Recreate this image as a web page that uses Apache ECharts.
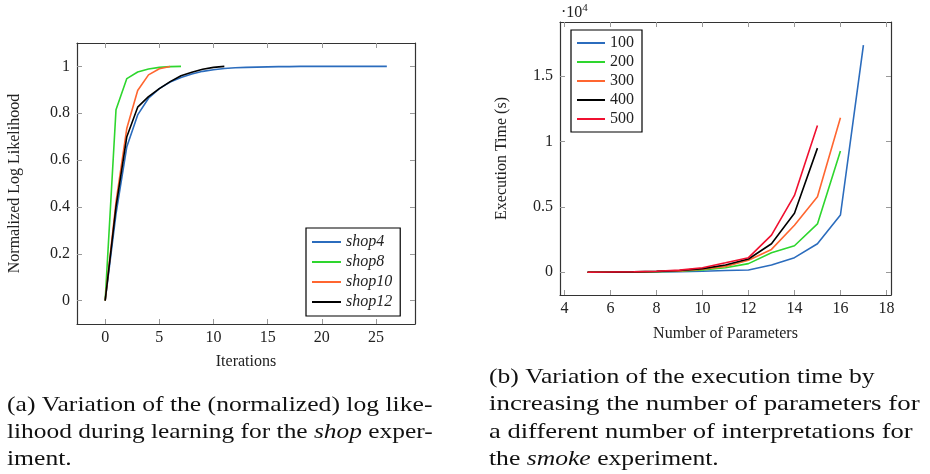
<!DOCTYPE html>
<html>
<head>
<meta charset="utf-8">
<script src="https://cdn.jsdelivr.net/npm/echarts@6/dist/echarts.min.js"></script>
<style>
html, body { margin: 0; padding: 0; background: #fff; }
#main { width: 930px; height: 474px; }
</style>
</head>
<body>
<div id="main"></div>
<script>
// (a) normalized log likelihood per iteration
var SHOP_NAMES = ['shop4', 'shop8', 'shop10', 'shop12'];
var shop4 = [0, 0.37, 0.657, 0.793, 0.864, 0.905, 0.933, 0.953, 0.968, 0.979, 0.986, 0.991, 0.994, 0.996, 0.997, 0.998, 0.999, 0.999, 1, 1, 1, 1, 1, 1, 1, 1, 1];
var shop8 = [0, 0.815, 0.948, 0.976, 0.989, 0.996, 0.999, 1];
var shop10 = [0, 0.42, 0.736, 0.897, 0.964, 0.99, 1];
var shop12 = [0, 0.40, 0.70, 0.826, 0.871, 0.905, 0.935, 0.96, 0.975, 0.988, 0.996, 1];
var ITER_TICKS = [0, 5, 10, 15, 20, 25];
var LL_TICKS = [0, 0.2, 0.4, 0.6, 0.8, 1];

// (b) execution time (s) per number of parameters
var PARAMS = [5, 6, 7, 8, 9, 10, 11, 12, 13, 14, 15, 16, 17];
var INTERP_NAMES = ['100', '200', '300', '400', '500'];
var t100 = [0, 5, 15, 30, 50, 80, 130, 177, 557, 1114, 2177, 4380, 17367];
var t200 = [0, 8, 20, 40, 80, 180, 350, 658, 1494, 2025, 3696, 9266];
var t300 = [0, 10, 25, 55, 100, 230, 450, 911, 1747, 3595, 5772, 11823];
var t400 = [0, 12, 30, 65, 130, 280, 550, 1013, 2177, 4506, 9494];
var t500 = [0, 15, 35, 75, 160, 340, 720, 1114, 2835, 5873, 11215];
var PARAM_TICKS = [4, 6, 8, 10, 12, 14, 16, 18];
var TIME_TICKS = [0, 5000, 10000, 15000];

var COLORS = ['#2b6cbd', '#2ed62e', '#ff6630', '#000000', '#f01030'];
var SERIF = 'Liberation Serif';

function pairs(xs, ys) {
	var out = [];
	for (var i = 0; i < ys.length; i++) out.push([xs[i], ys[i]]);
	return out;
}
function range(n) {
	var out = [];
	for (var i = 0; i < n; i++) out.push(i);
	return out;
}

function xAx(grid, min, max, ticks, pos, name, gap) {
	var main = pos == 'bottom';
	return {
		type: 'value', gridIndex: grid, position: pos, min: min, max: max,
		name: main ? name : '', nameLocation: 'middle', nameGap: gap,
		nameTextStyle: { fontFamily: SERIF, fontSize: 16, color: '#222' },
		splitLine: { show: false },
		axisLine: { show: true, onZero: false, lineStyle: { color: '#333', width: 1.2 } },
		axisTick: { show: true, inside: true, length: 5, customValues: ticks, lineStyle: { color: '#999' } },
		axisLabel: { show: main, customValues: ticks, margin: 6, fontFamily: SERIF, fontSize: 16, color: '#222' }
	};
}
function yAx(grid, min, max, ticks, pos, name, gap, fmt) {
	var main = pos == 'left';
	return {
		type: 'value', gridIndex: grid, position: pos, min: min, max: max,
		name: main ? name : '', nameLocation: 'middle', nameGap: gap,
		nameTextStyle: { fontFamily: SERIF, fontSize: 16, color: '#222' },
		splitLine: { show: false },
		axisLine: { show: true, onZero: false, lineStyle: { color: '#333', width: 1.2 } },
		axisTick: { show: true, inside: true, length: 5, customValues: ticks, lineStyle: { color: '#999' } },
		axisLabel: { show: main, customValues: ticks, margin: 7, fontFamily: SERIF, fontSize: 16, color: '#222', formatter: fmt }
	};
}

var shopData = [shop4, shop8, shop10, shop12];
var timeData = [t100, t200, t300, t400, t500];
var series = [];
shopData.forEach(function(d, i) {
	series.push({
		name: SHOP_NAMES[i], type: 'line', xAxisIndex: 0, yAxisIndex: 0,
		data: pairs(range(d.length), d), showSymbol: false,
		lineStyle: { width: 1.6, color: COLORS[i] }, itemStyle: { color: COLORS[i] }
	});
});
timeData.forEach(function(d, i) {
	series.push({
		name: INTERP_NAMES[i], type: 'line', xAxisIndex: 1, yAxisIndex: 1,
		data: pairs(PARAMS, d), showSymbol: false,
		lineStyle: { width: 1.6, color: COLORS[i] }, itemStyle: { color: COLORS[i] }
	});
});

// captions: CM is wider than Times, so stretch a bit
function caption(x, y, txt, sx) {
	return { type: 'text', x: x, y: y, scaleX: sx, style: {
		text: txt, font: '21px ' + SERIF, fill: '#111',
		rich: { i: { fontFamily: SERIF, fontSize: 21, fontStyle: 'italic' } }
	} };
}

var legendCommon = {
	orient: 'vertical', borderColor: '#000', borderWidth: 1.2, backgroundColor: '#fff',
	borderRadius: 0, icon: 'rect', itemWidth: 29, itemHeight: 2,
	textStyle: { fontFamily: SERIF, fontSize: 16, color: '#222' }
};

var option = {
	animation: false,
	grid: [
		{ left: 77, top: 43, width: 338, height: 281, show: false },
		{ left: 560, top: 22, width: 331, height: 273, show: false }
	],
	xAxis: [
		xAx(0, -2.6, 28.6, ITER_TICKS, 'bottom', 'Iterations', 30),
		xAx(1, 3.8, 18.2, PARAM_TICKS, 'bottom', 'Number of Parameters', 31),
		xAx(0, -2.6, 28.6, ITER_TICKS, 'top'),
		xAx(1, 3.8, 18.2, PARAM_TICKS, 'top')
	],
	yAxis: [
		yAx(0, -0.1, 1.1, LL_TICKS, 'left', 'Normalized Log Likelihood', 54),
		yAx(1, -1740, 19140, TIME_TICKS, 'left', 'Execution Time (s)', 50, function(v) { return String(v / 10000); }),
		yAx(0, -0.1, 1.1, LL_TICKS, 'right'),
		yAx(1, -1740, 19140, TIME_TICKS, 'right')
	],
	legend: [
		Object.assign({}, legendCommon, {
			data: SHOP_NAMES, left: 306, top: 228, padding: [6, 8, 6, 6], itemGap: 4,
			textStyle: { fontFamily: SERIF, fontSize: 16, fontStyle: 'italic', color: '#222' }
		}),
		Object.assign({}, legendCommon, {
			data: INTERP_NAMES, left: 571, top: 30, padding: [5, 8, 5, 6], itemGap: 3, itemWidth: 28
		})
	],
	series: series,
	graphic: [
		{ type: 'text', x: 561, y: 3, style: {
			text: '·10{s|4}', font: '16px ' + SERIF, fill: '#222',
			rich: { s: { fontFamily: SERIF, fontSize: 11, verticalAlign: 'top', padding: [0, 0, 8, 0] } }
		} },
		caption(7, 395, '(a) Variation of the (normalized) log like-', 1.22),
		caption(7, 422, 'lihood during learning for the {i|shop} exper-', 1.21),
		caption(7, 449, 'iment.', 1.22),
		caption(489, 367, '(b) Variation of the execution time by', 1.22),
		caption(489, 394, 'increasing the number of parameters for', 1.28),
		caption(489, 422, 'a different number of interpretations for', 1.265),
		caption(489, 449, 'the {i|smoke} experiment.', 1.22)
	]
};

var myChart = echarts.init(document.getElementById('main'));
myChart.setOption(option);
</script>
</body>
</html>
